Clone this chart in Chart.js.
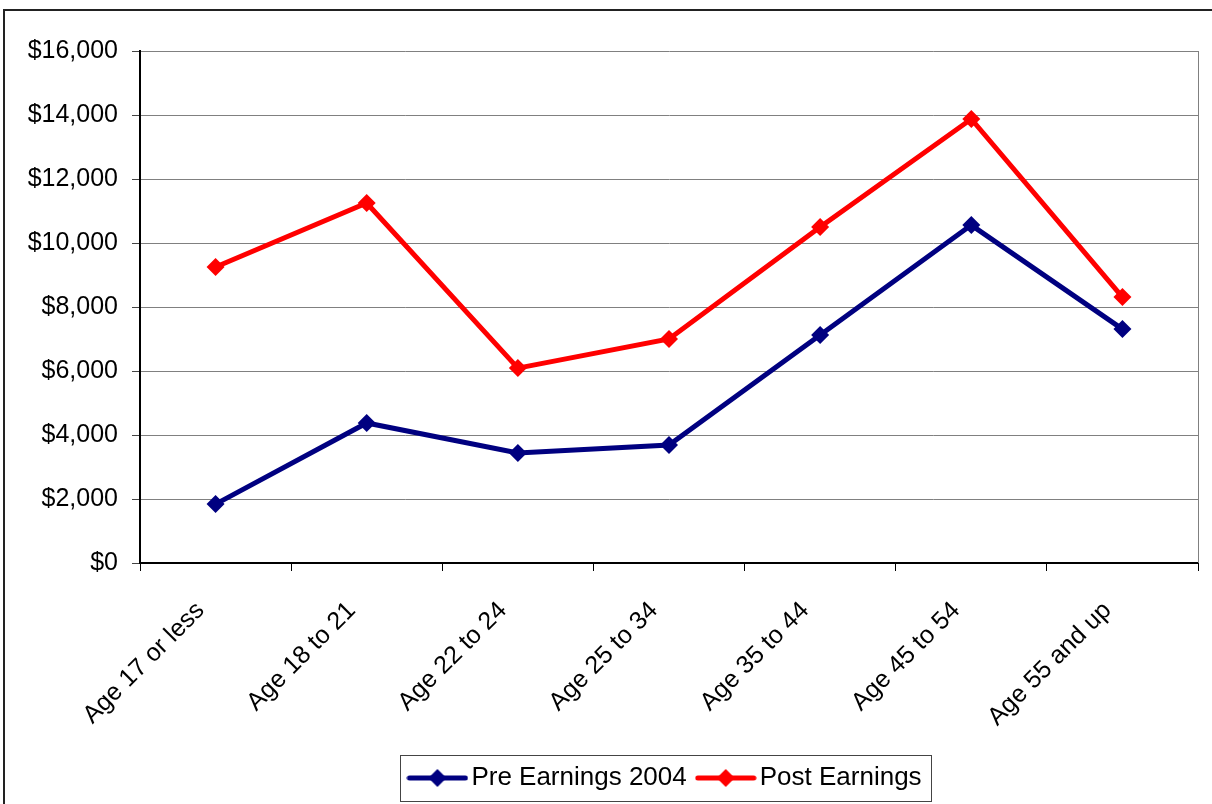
<!DOCTYPE html>
<html>
<head>
<meta charset="utf-8">
<script src="https://cdn.jsdelivr.net/npm/chart.js@4.4.1/dist/chart.umd.min.js"></script>
<style>
  html, body { margin: 0; padding: 0; background: #fff; }
  #wrap { width: 1212px; height: 804px; position: relative; }
</style>
</head>
<body>
<div id="wrap"><canvas id="chart"></canvas></div>
<script>
const ageGroups = ["Age 17 or less", "Age 18 to 21", "Age 22 to 24", "Age 25 to 34", "Age 35 to 44", "Age 45 to 54", "Age 55 and up"];
const preEarnings = [1840, 4375, 3440, 3690, 7125, 10560, 7310];
const postEarnings = [9250, 11250, 6090, 7000, 10500, 13875, 8310];
const seriesNames = ["Pre Earnings 2004", "Post Earnings"];
const yMax = 16000;
const yStep = 2000;

const navy = "#000080";
const red = "#ff0000";
const family = "'Liberation Sans', Arial, sans-serif";
const font = { family: family, size: 25 };
const legendFont = { family: family, size: 26 };

// little line + diamond image for the legend
function legendIcon(color) {
    const c = document.createElement("canvas");
    c.width = 62; c.height = 20;
    const g = c.getContext("2d");
    g.strokeStyle = color;
    g.lineWidth = 5;
    g.lineCap = "round";
    g.beginPath(); g.moveTo(3, 10); g.lineTo(59, 10); g.stroke();
    g.fillStyle = color;
    g.beginPath();
    g.moveTo(31, 1); g.lineTo(40, 10); g.lineTo(31, 19); g.lineTo(22, 10);
    g.closePath(); g.fill();
    return c;
}
const icons = [legendIcon(navy), legendIcon(red)];

const frame = {
    id: "frame",
    beforeDraw(chart) {
        const ctx = chart.ctx;
        ctx.save();
        ctx.fillStyle = "#fff";
        ctx.fillRect(0, 0, chart.width, chart.height);
        ctx.restore();
    },
    afterDraw(chart) {
        const ctx = chart.ctx;
        const a = chart.chartArea;
        ctx.save();
        // outer border of the picture
        ctx.strokeStyle = "#222";
        ctx.lineWidth = 2;
        ctx.strokeRect(4, 10, chart.width + 20, chart.height + 20);
        // right edge of plot area
        ctx.strokeStyle = "#808080";
        ctx.lineWidth = 1;
        ctx.beginPath();
        ctx.moveTo(Math.round(a.right) + 0.5, a.top);
        ctx.lineTo(Math.round(a.right) + 0.5, a.bottom);
        ctx.stroke();
        // box round the legend
        const boxes = chart.legend.legendHitBoxes;
        if (boxes && boxes.length) {
            const l = Math.min(...boxes.map(b => b.left));
            const r = Math.max(...boxes.map(b => b.left + b.width));
            const t = Math.min(...boxes.map(b => b.top));
            const bt = Math.max(...boxes.map(b => b.top + b.height));
            ctx.strokeStyle = "#444";
            ctx.strokeRect(Math.round(l - 16) + 0.5, Math.round(t - 10) + 0.5, Math.round(r - l + 26), Math.round(bt - t + 20));
        }
        ctx.restore();
    }
};

new Chart(document.getElementById("chart"), {
    type: "line",
    data: {
        labels: ageGroups,
        datasets: [
            {
                label: seriesNames[0],
                data: preEarnings,
                borderColor: navy,
                backgroundColor: navy,
                borderWidth: 5,
                pointStyle: "rectRot",
                pointRadius: 9,
                pointBorderWidth: 0,
                tension: 0,
            },
            {
                label: seriesNames[1],
                data: postEarnings,
                borderColor: red,
                backgroundColor: red,
                borderWidth: 5,
                pointStyle: "rectRot",
                pointRadius: 9,
                pointBorderWidth: 0,
                tension: 0,
            },
        ],
    },
    options: {
        responsive: true,
        maintainAspectRatio: false,
        animation: false,
        layout: { padding: { top: 51, right: 14, left: 6, bottom: 3 } },
        scales: {
            x: {
                offset: true,
                grid: { offset: true, drawOnChartArea: false, drawTicks: true, tickLength: 8, tickColor: "#000" },
                border: { color: "#000", width: 2 },
                ticks: { color: "#000", font: font, maxRotation: 45, minRotation: 45, padding: 25, labelOffset: -15 },
                afterFit(scale) { scale.height = 184; },
            },
            y: {
                min: 0,
                max: yMax,
                grid: { color: "#808080", lineWidth: 1, tickLength: 8, tickColor: "#444" },
                border: { color: "#000", width: 2 },
                ticks: {
                    stepSize: yStep,
                    color: "#000",
                    font: font,
                    padding: 14,
                    callback: v => "$" + v.toLocaleString("en-US"),
                },
                afterFit(scale) { scale.width = 134; },
            },
        },
        plugins: {
            legend: {
                position: "bottom",
                fullSize: false,
                labels: {
                    color: "#000",
                    font: legendFont,
                    usePointStyle: true,
                    pointStyleWidth: 42,
                    padding: 18,
                    generateLabels(chart) {
                        const items = Chart.defaults.plugins.legend.labels.generateLabels(chart);
                        items.forEach((it, i) => { it.pointStyle = icons[i]; });
                        return items;
                    },
                },
            },
            tooltip: { enabled: false },
        },
    },
    plugins: [frame],
});
</script>
</body>
</html>
